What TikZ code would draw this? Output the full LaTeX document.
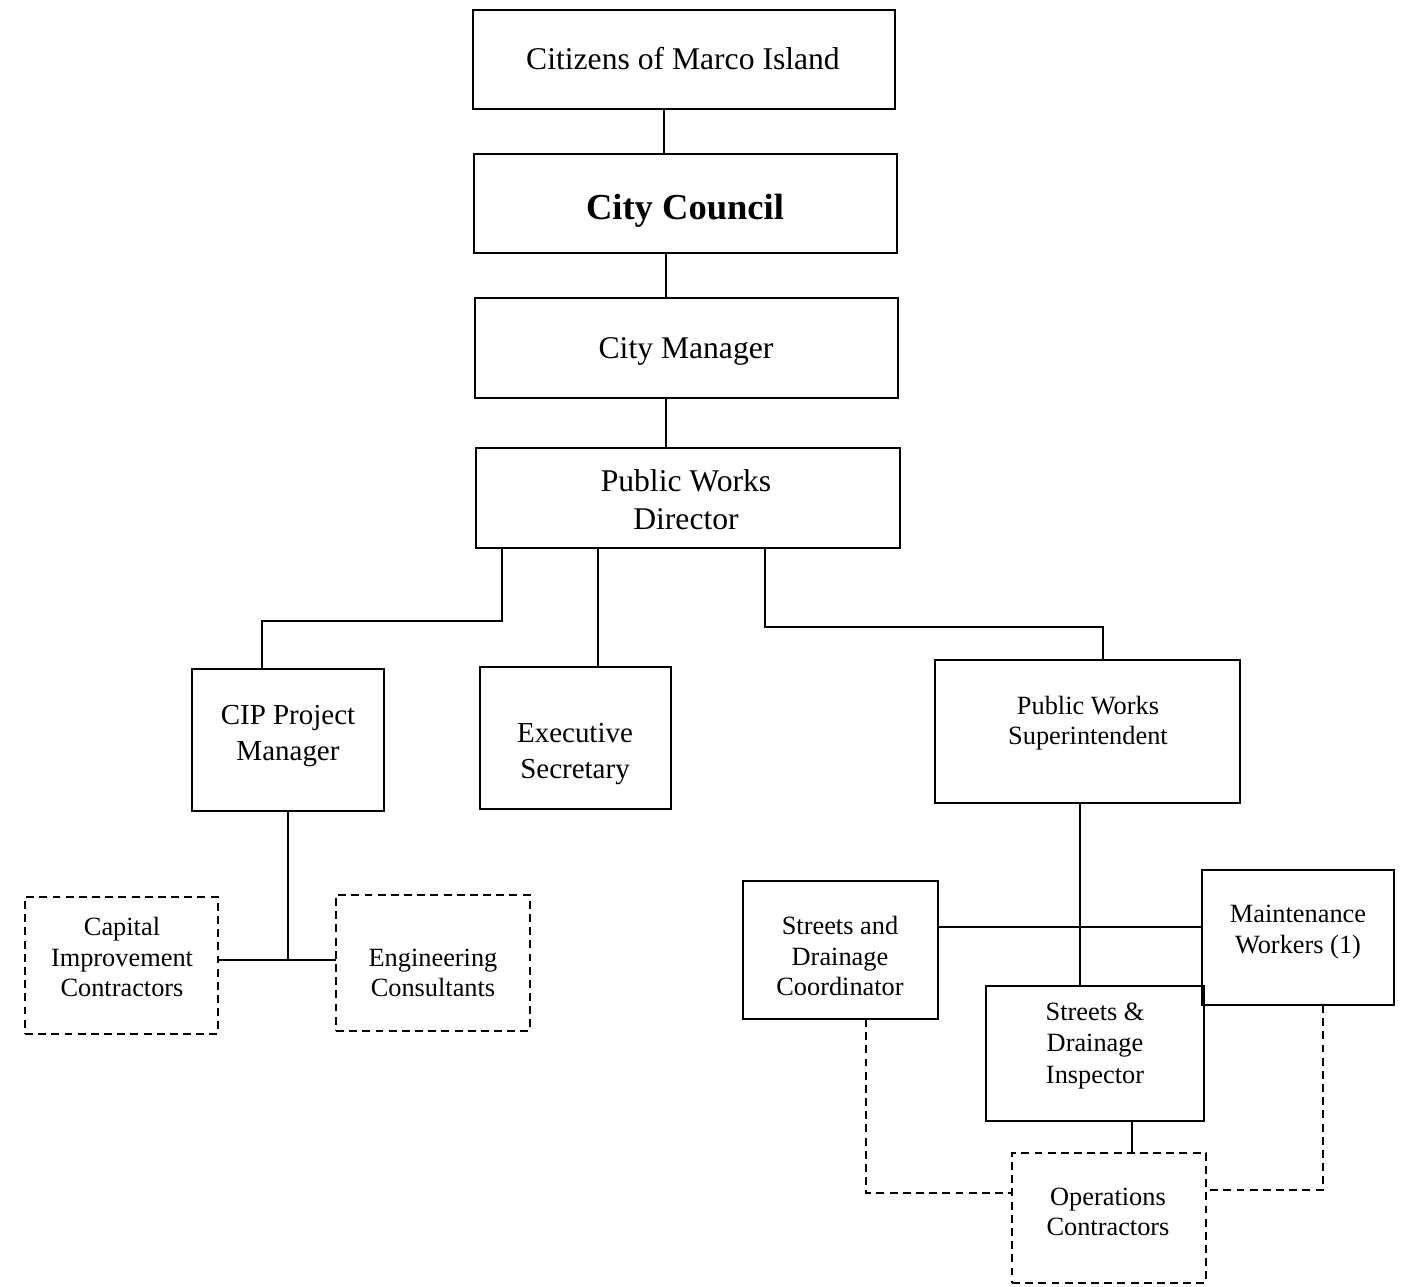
\documentclass[tikz,border=0pt]{standalone}
\usepackage{fontspec}
\setmainfont{Liberation Serif}
\usetikzlibrary{fit}
\begin{document}
\begin{tikzpicture}[x=0.02cm,y=-0.02cm,
  orgbox/.style={draw, line width=1pt, inner sep=0pt, outer sep=0pt},
  dashbox/.style={orgbox, dash pattern=on 4.5pt off 3pt},
  link/.style={draw, line width=1pt},
  dlink/.style={link, dash pattern=on 4.5pt off 3pt},
  txtL/.style={align=center, inner sep=0pt, font=\fontsize{18}{21.5}\selectfont},
  txtB/.style={align=center, inner sep=0pt, font=\fontsize{20.8}{24}\selectfont\bfseries},
  txtM/.style={align=center, inner sep=0pt, font=\fontsize{16.5}{20.2}\selectfont},
  txtS/.style={align=center, inner sep=0pt, font=\fontsize{15}{17.4}\selectfont},
  txtT/.style={align=center, inner sep=0pt, font=\fontsize{15}{18}\selectfont},
]
\useasboundingbox (0,0) rectangle (1407,1287);

% --- boxes ---
\node[orgbox, fit={(473,10) (895,109)}] (cit) {};
\node[orgbox, fit={(474,154) (897,253)}] (council) {};
\node[orgbox, fit={(475,298) (898,398)}] (mgr) {};
\node[orgbox, fit={(476,448) (900,548)}] (dir) {};
\node[orgbox, fit={(192,669) (384,811)}] (cip) {};
\node[orgbox, fit={(480,667) (671,809)}] (exec) {};
\node[orgbox, fit={(935,660) (1240,803)}] (sup) {};
\node[dashbox, fit={(25,897) (218,1034)}] (cap) {};
\node[dashbox, fit={(336,895) (530,1031)}] (eng) {};
\node[orgbox, fit={(743,881) (938,1019)}] (coord) {};
\node[orgbox, fit={(1202,870) (1394,1005)}] (maint) {};
\node[orgbox, fit={(986,986) (1204,1121)}] (insp) {};
\node[dashbox, fit={(1012,1153) (1206,1283)}] (ops) {};

% --- labels ---
\node[txtL] (cit-t) at (683,59) {Citizens of Marco Island};
\node[txtB] (council-t) at (685,211) {City Council};
\node[txtL] (mgr-t) at (686,351) {City Manager};
\node[txtL] (dir-t) at (686,500) {Public Works\\Director};
\node[txtM] (cip-t) at (288,736) {CIP Project\\Manager};
\node[txtM] (exec-t) at (575,754) {Executive\\Secretary};
\node[txtS] (sup-t) at (1088,723) {Public Works\\Superintendent};
\node[txtS] (cap-t) at (122,957) {Capital\\Improvement\\Contractors};
\node[txtS] (eng-t) at (433,973) {Engineering\\Consultants};
\node[txtS] (coord-t) at (840,956) {Streets and\\Drainage\\Coordinator};
\node[txtS] (maint-t) at (1298,932) {Maintenance\\Workers (1)};
\node[txtT] (insp-t) at (1095,1046) {Streets \&\\Drainage\\Inspector};
\node[txtS] (ops-t) at (1108,1212) {Operations\\Contractors};

% --- solid connectors ---
\path[link] (cit.south -| 664,0) -- (council.north -| 664,0);
\path[link] (council.south -| 666,0) -- (mgr.north -| 666,0);
\path[link] (mgr.south -| 666,0) -- (dir.north -| 666,0);
\path[link] (dir.south -| 502,0) -- (502,621) -| (cip.north -| 262,0);
\path[link] (dir.south -| 598,0) -- (exec.north -| 598,0);
\path[link] (dir.south -| 765,0) -- (765,627) -| (sup.north -| 1103,0);
\path[link] (cip.south) -- (288,960);
\path[link] (cap.east |- 0,960) -- (eng.west |- 0,960);
\path[link] (sup.south -| 1080,0) -- (insp.north -| 1080,0);
\path[link] (coord.east |- 0,927) -- (maint.west |- 0,927);
\path[link] (insp.south -| 1132,0) -- (ops.north -| 1132,0);

% --- dashed connectors ---
\path[dlink] (coord.south -| 866,0) |- (ops.west |- 0,1193);
\path[dlink] (maint.south -| 1323,0) |- (ops.east |- 0,1190);
\end{tikzpicture}
\end{document}
